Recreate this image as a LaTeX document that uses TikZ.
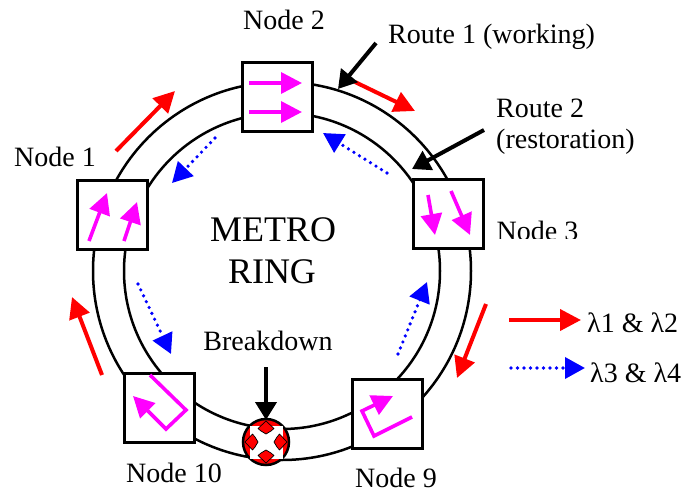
\documentclass[tikz,border=0pt]{standalone}
\usepackage{fontspec}
\setmainfont{Liberation Serif}
\usetikzlibrary{arrows.meta}
\definecolor{nodemagenta}{RGB}{255,0,255}

\tikzstyle{ringline} = [circle, draw, line width=2.5pt, inner sep=0pt, outer sep=0pt]
\tikzstyle{nodebox} = [rectangle, draw, fill=white, line width=3pt, minimum width=70pt, minimum height=69pt, inner sep=0pt]
\tikzstyle{tag} = [font=\fontsize{28}{30}\selectfont, inner sep=0pt]
\tikzstyle{bigtag} = [font=\fontsize{36}{38}\selectfont, inner sep=0pt]
\tikzstyle{working} = [red, line width=4pt, -{Triangle[length=21pt,width=21pt]}]
\tikzstyle{restore} = [blue, line width=3.6pt, line cap=round, dash pattern=on 0pt off 6.5pt, -{Triangle[length=20pt,width=21pt]}]
\tikzstyle{inbox} = [nodemagenta, line width=3.6pt, -{Triangle[length=21pt,width=21pt]}]
\tikzstyle{pointer} = [black, line width=4pt, -{Triangle[length=18pt,width=21pt]}]

\begin{document}
\begin{tikzpicture}[x=1pt, y=-1pt]
\useasboundingbox (0,0) rectangle (697,493);

% the ring
\node[ringline, minimum size=378pt] (outerring) at (282,271) {};
\node[ringline, minimum size=316pt] (innerring) at (282,271) {};

% the nodes
\node[nodebox] (node2) at (277,96.5) {};
\node[nodebox] (node1) at (112,214.5) {};
\node[nodebox] (node3) at (448,214) {};
\node[nodebox] (node10) at (159,408) {};
\node[nodebox] (node9) at (387.5,413.5) {};

% the breakdown
\node[circle, draw, fill=red, line width=2.5pt, minimum size=46pt, inner sep=0pt] (fault) at (266,442) {};
\fill[white] (249.5,425.5) rectangle (282.5,458.5);
\foreach \ang in {0,90,180,270}
    \draw[rotate around={\ang:(266,442)}, draw=black, fill=red, line width=0.7pt, line join=round]
        (266,421) -- (274,428.5) -- (271,431) -- (266,434) -- (261,431) -- (258,428.5) -- cycle;

% labels
\node[tag] (lnode2) at (284,20) {Node 2};
\node[tag, anchor=west] (lroute1) at (388,37) {Route 1 (working)};
\node[tag, anchor=west] (lroute2) at (496,108) {Route 2};
\node[tag, anchor=west] (lrest) at (496,142) {(restoration)};
\node[tag] (lnode1) at (55,157) {Node 1};
\node[tag] (lnode10) at (174,473) {Node 10};
\node[tag] (lnode9) at (396,477.5) {Node 9};
\node[tag] (lbreak) at (268,341) {Breakdown};
\begin{scope}
    \clip (490,215) rectangle (590,238.5);
    \node[tag] (lnode3) at (537.5,231) {Node 3};
\end{scope}
\node[bigtag] (lmetro) at (273,230) {METRO};
\node[bigtag] (lring) at (272,272) {RING};
\node[tag, anchor=west] (llam1) at (587,323) {λ1 \& λ2};
\node[tag, anchor=west] (llam2) at (590,373) {λ3 \& λ4};

% free ends of the arrows
\coordinate (ra1) at (116,151);  \coordinate (rb1) at (175,91);
\coordinate (ra2) at (355,82);   \coordinate (rb2) at (415,111);
\coordinate (ra3) at (486,304);  \coordinate (rb3) at (457,378);
\coordinate (ra4) at (102,375);  \coordinate (rb4) at (72,297);
\coordinate (ra5) at (509,320);  \coordinate (rb5) at (581,320);
\coordinate (ba1) at (215,138);  \coordinate (bb1) at (172,183);
\coordinate (ba2) at (387,173);  \coordinate (bb2) at (323,133);
\coordinate (ba3) at (138,284);  \coordinate (bb3) at (171,354);
\coordinate (ba4) at (398,354);  \coordinate (bb4) at (427,282);
\coordinate (ba5) at (511,368);  \coordinate (bb5) at (585,368);
\coordinate (pa1) at (376,43);   \coordinate (pb1) at (338,89);
\coordinate (pa2) at (484,130);  \coordinate (pb2) at (412,169);
\coordinate (pa3) at (266,367);  \coordinate (pb3) at (266,420);

% working route
\draw[working] (ra1) -- (rb1);
\draw[working] (ra2) -- (rb2);
\draw[working] (ra3) -- (rb3);
\draw[working] (ra4) -- (rb4);
\draw[working] (ra5) -- (rb5);

% restoration route
\draw[restore] (ba1) -- (bb1);
\draw[restore] (ba2) -- (bb2);
\draw[restore] (ba3) -- (bb3);
\draw[restore] (ba4) -- (bb4);
\draw[restore] (ba5) -- (bb5);

% pointers
\draw[pointer] (pa1) -- (pb1);
\draw[pointer] (pa2) -- (pb2);
\draw[pointer] (pa3) -- (pb3);

% inside the nodes
\coordinate (ma1) at (249,83);   \coordinate (mb1) at (302,83);
\coordinate (ma2) at (249,112);  \coordinate (mb2) at (302,112);
\coordinate (ma3) at (89,241);   \coordinate (mb3) at (107,193);
\coordinate (ma4) at (124,241);  \coordinate (mb4) at (137,202);
\coordinate (ma5) at (428,195);  \coordinate (mb5) at (435,235);
\coordinate (ma6) at (451,191);  \coordinate (mb6) at (470,235);
\coordinate (ma7) at (150,375);  \coordinate (mc7) at (186,410);
\coordinate (md7) at (166,429);  \coordinate (mb7) at (133,396);
\coordinate (ma8) at (412,417);  \coordinate (mc8) at (374,436);
\coordinate (md8) at (362,411);  \coordinate (mb8) at (393,396);
\draw[inbox] (ma1) -- (mb1);
\draw[inbox] (ma2) -- (mb2);
\draw[inbox] (ma3) -- (mb3);
\draw[inbox] (ma4) -- (mb4);
\draw[inbox] (ma5) -- (mb5);
\draw[inbox] (ma6) -- (mb6);
\draw[inbox] (ma7) -- (mc7) -- (md7) -- (mb7);
\draw[inbox] (ma8) -- (mc8) -- (md8) -- (mb8);
\end{tikzpicture}
\end{document}
